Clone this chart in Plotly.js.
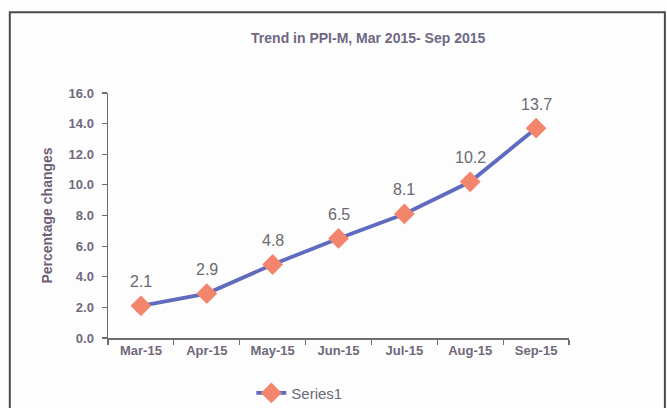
<!DOCTYPE html>
<html><head><meta charset="utf-8">
<script src="https://cdn.plot.ly/plotly-3.0.1.min.js"></script>
<style>html,body{margin:0;padding:0;background:#fff;}#chart{width:667px;height:408px;}</style>
</head><body><div id="chart"></div>
<script>
const months = ["Mar-15","Apr-15","May-15","Jun-15","Jul-15","Aug-15","Sep-15"];
const ppiChange = [2.1, 2.9, 4.8, 6.5, 8.1, 10.2, 13.7];
const yTicks = [0,2,4,6,8,10,12,14,16];
const seriesName = "Series1";

const trace = {
  x: months, y: ppiChange, type: "scatter", mode: "lines+markers",
  name: seriesName,
  line: {color: "#5f6bbf", width: 3.8},
  marker: {symbol: "diamond", size: 16, color: "#f3856d", line: {width: 0}},
  cliponaxis: false
};

const labels = months.map((m, i) => ({
  x: m, y: ppiChange[i], xref: "x", yref: "y", text: ppiChange[i].toFixed(1),
  showarrow: false, yshift: 24, yanchor: "middle",
  font: {family: "Liberation Sans, Arial, sans-serif", size: 16, color: "#6a6a72"}
}));

const layout = {
  width: 667, height: 408,
  margin: {l: 108, r: 98, t: 93, b: 70, autoexpand: false},
  paper_bgcolor: "#fdfdfd", plot_bgcolor: "rgba(0,0,0,0)",
  font: {family: "Liberation Sans, Arial, sans-serif", color: "#6b6775"},
  title: {text: "<b>Trend in PPI-M, Mar 2015- Sep 2015</b>", x: 0.552, xanchor: "center", y: 0.907, yanchor: "middle",
          font: {size: 14, color: "#6f6883"}},
  showlegend: true,
  legend: {orientation: "h", x: 0.415, xanchor: "center", y: -0.225, yanchor: "middle",
           font: {size: 15, color: "#6b6a78"}, bgcolor: "rgba(0,0,0,0)"},
  annotations: labels,
  xaxis: {type: "category", showgrid: false, zeroline: false, showline: true, linecolor: "#6d6d72", linewidth: 1.5,
          ticks: "outside", tickson: "boundaries", ticklen: 5, tickcolor: "#6d6d72", tickwidth: 1.2,
          tickfont: {size: 13, color: "#70687a"}, range: [-0.5, 6.5], fixedrange: true},
  yaxis: {range: [0, 16], tickvals: yTicks, ticktext: yTicks.map(v => "<b>" + v.toFixed(1) + "</b>"),
          showgrid: false, zeroline: false, showline: true, linecolor: "#6d6d72", linewidth: 1.5,
          ticks: "outside", ticklen: 5, tickcolor: "#6d6d72", tickwidth: 1.2, ticklabelstandoff: 5,
          tickfont: {size: 13, color: "#6f6a7e"},
          title: {text: "<b>Percentage changes</b>", font: {size: 14, color: "#6f5f78"}, standoff: 12}},
  shapes: [{type: "rect", xref: "paper", yref: "paper", x0: -0.213, x1: 1.208, y0: -0.32, y1: 1.33,
            line: {color: "#4a4a4a", width: 2}, fillcolor: "rgba(0,0,0,0)", layer: "below"}]
};
layout.xaxis.ticktext = months.map(m => "<b>" + m + "</b>");
layout.xaxis.tickvals = months;

Plotly.newPlot("chart", [trace], layout, {displayModeBar: false, staticPlot: true});
</script></body></html>
